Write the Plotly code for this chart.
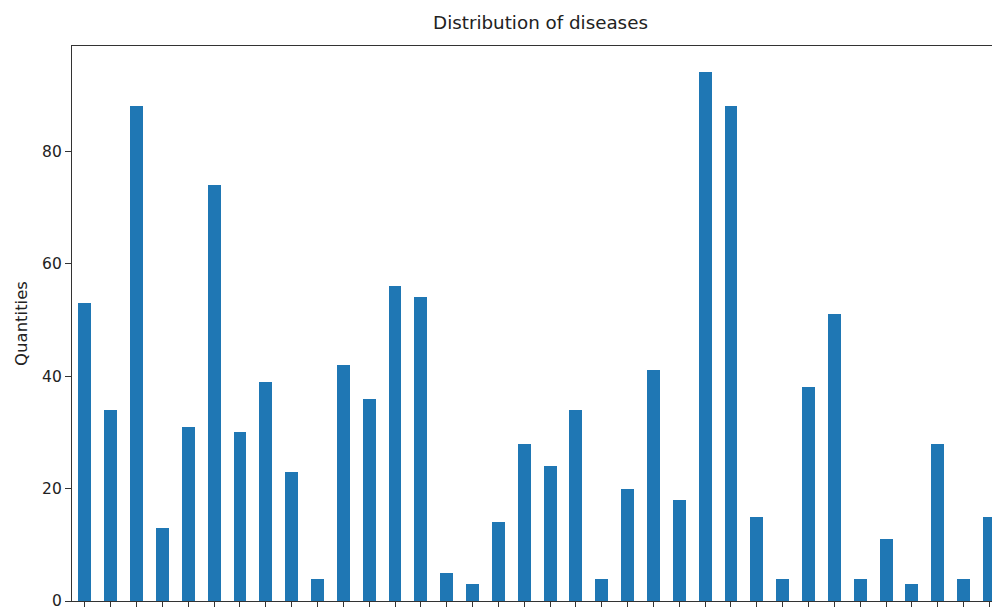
import plotly.graph_objects as go

categories = [f"Disease {i+1}" for i in range(36)]
quantities = [53, 34, 88, 13, 31, 74, 30, 39, 23, 4, 42, 36, 56, 54, 5, 3, 14, 28,
              24, 34, 4, 20, 41, 18, 94, 88, 15, 4, 38, 51, 4, 11, 3, 28, 4, 15]
y_ticks = [0, 20, 40, 60, 80]

FONT = "DejaVu Sans, sans-serif"

fig = go.Figure(go.Bar(
    x=list(range(len(categories))),
    y=quantities,
    width=0.5,
    marker=dict(color="#1f77b4", line=dict(width=0)),
    hovertext=categories,
))

fig.update_layout(
    width=992, height=607,
    margin=dict(l=72, r=0, t=46, b=6),
    paper_bgcolor="white", plot_bgcolor="white",
    font=dict(family=FONT, size=15.5, color="#222222"),
    title=dict(text="Distribution of diseases", x=540.5/992, xref="container",
               xanchor="center", y=1-23/607, yref="container", yanchor="middle",
               font=dict(family=FONT, size=18.3, color="#222222")),
    showlegend=False,
    bargap=0,
)
fig.update_xaxes(
    range=[-0.5, 35.1], tickmode="array",
    tickvals=list(range(len(categories))), showticklabels=False,
    ticks="outside", ticklen=6, tickwidth=1.2, tickcolor="#333333",
    showline=True, linecolor="#333333", linewidth=1.3, mirror=True,
    showgrid=False, zeroline=False, automargin=False,
)
fig.update_yaxes(
    range=[0, 98.7], tickmode="array", tickvals=y_ticks,
    ticks="outside", ticklen=6, tickwidth=1.2, tickcolor="#333333",
    showline=True, linecolor="#333333", linewidth=1.3,
    showgrid=False, zeroline=False, ticklabeloverflow="allow", automargin=False,
    tickfont=dict(size=15.5, color="#222222"),
    title=dict(text="Quantities", standoff=10, font=dict(size=16.5, color="#222222")),
)

fig.write_html(
    "out.html",
    config={"displayModeBar": False},
    post_script="document.body.style.margin='0';document.body.style.overflow='hidden';",
)
